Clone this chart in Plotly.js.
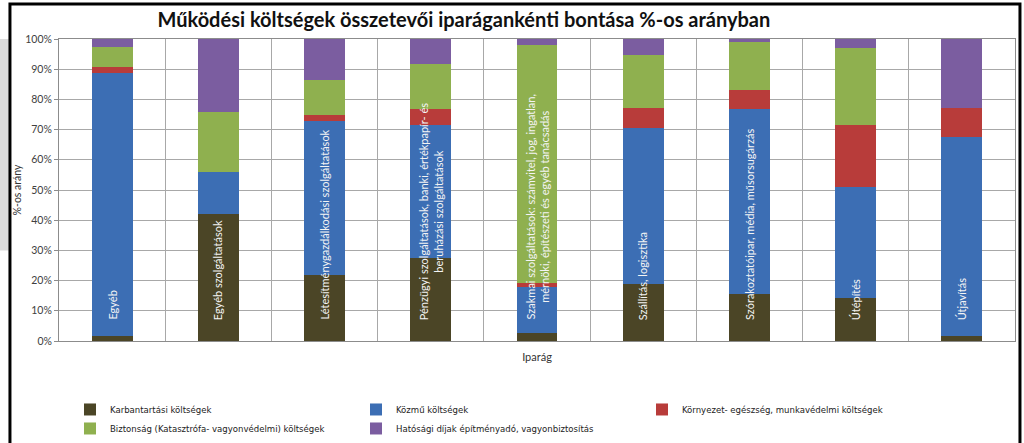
<!DOCTYPE html>
<html>
<head>
<meta charset="utf-8">
<script src="https://cdn.plot.ly/plotly-3.0.1.min.js"></script>
<style>html,body{margin:0;padding:0;background:#fff;}#chart{width:1024px;height:443px;}</style>
</head>
<body>
<div id="chart"></div>
<script>
// Categories (industries)
const categories = ["Egyéb","Egyéb szolgáltatások","Létesítménygazdálkodási szolgáltatások","Pénzügyi szolgáltatások","Szakmai szolgáltatások","Szállítás, logisztika","Szórakoztatóipar, média, műsorsugárzás","Útépítés","Útjavítás"];
const barLabels = [
  "Egyéb",
  "Egyéb szolgáltatások",
  "Létesítménygazdálkodási szolgáltatások",
  "Pénzügyi szolgáltatások, banki, értékpapír- és<br>beruházási szolgáltatások",
  "Szakmai szolgáltatások: számvitel, jog, ingatlan,<br>mérnöki, építészeti és egyéb tanácsadás",
  "Szállítás, logisztika",
  "Szórakoztatóipar, média, műsorsugárzás",
  "Útépítés",
  "Útjavítás"
];
const seriesNames = ["Karbantartási költségek","Közmű költségek","Környezet- egészség, munkavédelmi költségek","Biztonság (Katasztrófa- vagyonvédelmi) költségek","Hatósági díjak építményadó, vagyonbiztosítás"];
// Values in percent
const karbantartasi = [1.8, 42.0, 21.9, 27.4, 2.8, 18.8, 15.4, 14.1, 1.7];
const kozmu         = [86.9, 14.0, 50.8, 44.2, 15.0, 51.8, 61.5, 37.0, 65.8];
const kornyezet     = [1.9, 0.0, 2.1, 5.3, 1.3, 6.5, 6.2, 20.4, 9.8];
const biztonsag     = [6.9, 19.9, 11.5, 14.8, 78.8, 17.5, 15.8, 25.5, 0.0];
const hatosagi      = [2.5, 24.1, 13.7, 8.3, 2.1, 5.4, 1.1, 3.0, 22.7];

const colors = ["#4b4526","#3c6eb4","#b83c3a","#8fb04f","#7b5da0"];
const seriesValues = [karbantartasi, kozmu, kornyezet, biztonsag, hatosagi];

const traces = seriesValues.map((vals, i) => ({
  type: "bar",
  name: seriesNames[i],
  x: categories,
  y: vals,
  marker: {color: colors[i], line: {width: 0}},
  hoverinfo: "x+y+name"
}));

const annotations = categories.map((c, i) => ({
  x: c, y: 6.3, xref: "x", yref: "y",
  text: barLabels[i], showarrow: false, textangle: -90,
  xanchor: "center", yanchor: "bottom", align: "center",
  font: {family: "Lato, 'Open Sans', sans-serif", size: 11, color: "#f4f4f4"}
}));

const layout = {
  width: 1024, height: 443,
  paper_bgcolor: "#ffffff", plot_bgcolor: "#ffffff",
  barmode: "stack", bargap: 0.615,
  margin: {l: 59, r: 9, t: 39, b: 102, pad: 0, autoexpand: false},
  font: {family: "Lato, 'Open Sans', sans-serif", color: "#333333"},
  title: {
    text: "<b>Működési költségek összetevői iparágankénti bontása %-os arányban</b>",
    x: 0.453, xref: "container", xanchor: "center",
    y: 0.955, yref: "container", yanchor: "middle",
    font: {family: "Lato, sans-serif", size: 20, color: "#111111"}
  },
  xaxis: {
    type: "category",
    showticklabels: false,
    tickson: "boundaries",
    ticks: "",
    showgrid: true, gridcolor: "#a8a8a8", gridwidth: 1,
    showline: true, linecolor: "#8c8c8c", linewidth: 1, mirror: true,
    title: {text: "Iparág", font: {size: 11, color: "#333333"}, standoff: 12},
    fixedrange: true
  },
  yaxis: {
    range: [0, 100], dtick: 10, ticksuffix: "%",
    showgrid: true, gridcolor: "#a8a8a8", gridwidth: 1,
    showline: true, linecolor: "#8c8c8c", linewidth: 1, mirror: true,
    ticks: "outside", ticklen: 4, tickcolor: "#8c8c8c",
    tickfont: {size: 10.5, color: "#404040"},
    title: {text: "%-os arány", font: {size: 10.5, color: "#333333"}, standoff: 1},
    zeroline: false, fixedrange: true
  },
  legend: {
    orientation: "h", x: 0.0115, xanchor: "left",
    y: 0.1084, yref: "container", yanchor: "top",
    entrywidth: 241, entrywidthmode: "pixels",
    font: {family: "'Liberation Sans Narrow', 'DejaVu Sans Condensed', sans-serif", size: 9.5, color: "#222222"},
    traceorder: "normal", itemwidth: 30, bgcolor: "rgba(0,0,0,0)"
  },
  annotations: annotations,
  shapes: [
    {type: "rect", xref: "paper", yref: "paper", x0: -0.0618, x1: -0.0525, y0: 0.30, y1: 1.0, fillcolor: "#dcdcdc", line: {width: 0}, layer: "below"},
    {type: "rect", xref: "paper", yref: "paper", x0: -0.0513, x1: 1.0052, y0: -0.36, y1: 1.116, fillcolor: "rgba(0,0,0,0)", line: {color: "#000000", width: 3}}
  ],
  showlegend: true
};

Plotly.newPlot("chart", traces, layout, {displayModeBar: false, staticPlot: true});
</script>
</body>
</html>
